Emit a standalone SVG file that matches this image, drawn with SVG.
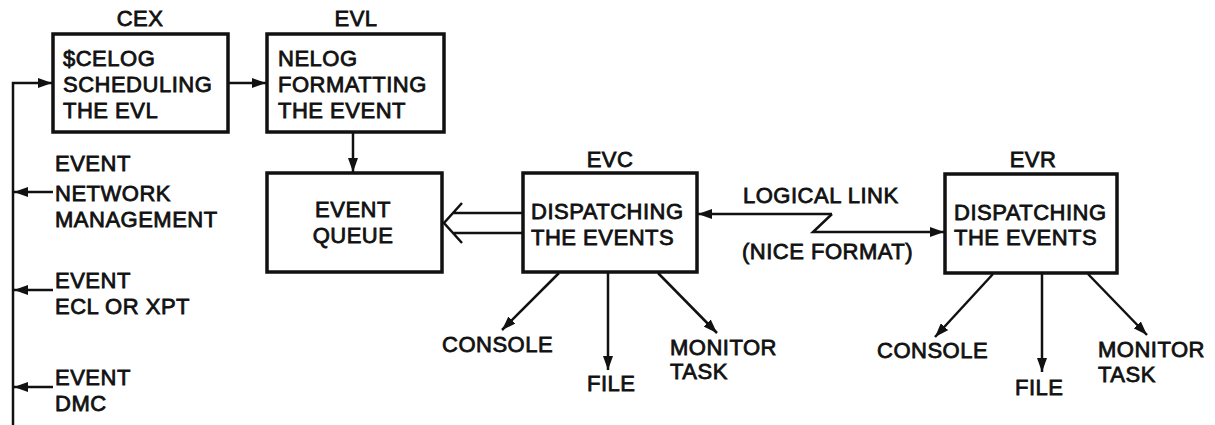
<svg xmlns="http://www.w3.org/2000/svg" width="1215" height="425" viewBox="0 0 1215 425">
<style>
text{font-family:"Liberation Sans",Arial,sans-serif;font-size:22px;fill:#111;stroke:#111;stroke-width:0.8;letter-spacing:0.5px}
.box{fill:#fff;stroke:#111;stroke-width:3.5}
.ln{fill:none;stroke:#111;stroke-width:2.5}
.c{text-anchor:middle}
</style>
<defs>
<marker id="ah" viewBox="0 0 14 10" refX="14" refY="5" markerWidth="14" markerHeight="10" markerUnits="userSpaceOnUse" orient="auto">
<path d="M0,0 L14,5 L0,10 Z" fill="#111"/>
</marker>
</defs>
<g id="connectors">
<path class="ln" d="M13,425 V83 H52" marker-end="url(#ah)"/>
<path class="ln" d="M228,83 H266" marker-end="url(#ah)"/>
<path class="ln" d="M353,132 V172" marker-end="url(#ah)"/>
<path class="ln" d="M53,192 H14" marker-end="url(#ah)"/>
<path class="ln" d="M53,290 H14" marker-end="url(#ah)"/>
<path class="ln" d="M53,387 H14" marker-end="url(#ah)"/>
<path class="ln" d="M523,213 H453 M523,233 H453 M462,203 L444,223 L462,243"/>
<path class="ln" d="M832,214 H698" marker-end="url(#ah)"/>
<path class="ln" d="M832,214 L813,232 H944" marker-end="url(#ah)"/>
<path class="ln" d="M559,273 L502,330" marker-end="url(#ah)"/>
<path class="ln" d="M608,273 V370" marker-end="url(#ah)"/>
<path class="ln" d="M658,273 L717,333" marker-end="url(#ah)"/>
<path class="ln" d="M993,274 L935,337" marker-end="url(#ah)"/>
<path class="ln" d="M1042,274 V372" marker-end="url(#ah)"/>
<path class="ln" d="M1088,274 L1147,335" marker-end="url(#ah)"/>
</g>
<g id="cex">
<rect class="box" x="53" y="34" width="175" height="98"/>
<text class="c" x="140" y="26">CEX</text>
<text x="63" y="66">$CELOG</text>
<text x="63" y="92">SCHEDULING</text>
<text x="63" y="118">THE EVL</text>
</g>
<g id="evl">
<rect class="box" x="267" y="34" width="177" height="98"/>
<text class="c" x="356" y="26">EVL</text>
<text x="278" y="66">NELOG</text>
<text x="278" y="92">FORMATTING</text>
<text x="278" y="118">THE EVENT</text>
</g>
<g id="queue">
<rect class="box" x="267" y="173" width="175" height="99"/>
<text class="c" x="353" y="217">EVENT</text>
<text class="c" x="353" y="243">QUEUE</text>
</g>
<g id="evc">
<rect class="box" x="523" y="173" width="174" height="99"/>
<text class="c" x="610" y="167">EVC</text>
<text x="531" y="219">DISPATCHING</text>
<text x="531" y="245">THE EVENTS</text>
</g>
<g id="evr">
<rect class="box" x="945" y="174" width="172" height="99"/>
<text class="c" x="1033" y="167">EVR</text>
<text x="954" y="220">DISPATCHING</text>
<text x="954" y="245">THE EVENTS</text>
</g>
<g id="labels">
<text x="55" y="171">EVENT</text>
<text x="55" y="201">NETWORK</text>
<text x="55" y="227">MANAGEMENT</text>
<text x="55" y="288">EVENT</text>
<text x="55" y="314">ECL OR XPT</text>
<text x="55" y="385">EVENT</text>
<text x="55" y="411">DMC</text>
<text x="743" y="203">LOGICAL LINK</text>
<text x="742" y="259">(NICE FORMAT)</text>
<text x="442" y="352">CONSOLE</text>
<text x="587" y="391">FILE</text>
<text x="670" y="355">MONITOR</text>
<text x="670" y="379">TASK</text>
<text x="877" y="358">CONSOLE</text>
<text x="1015" y="395">FILE</text>
<text x="1098" y="357">MONITOR</text>
<text x="1098" y="382">TASK</text>
</g>
</svg>
